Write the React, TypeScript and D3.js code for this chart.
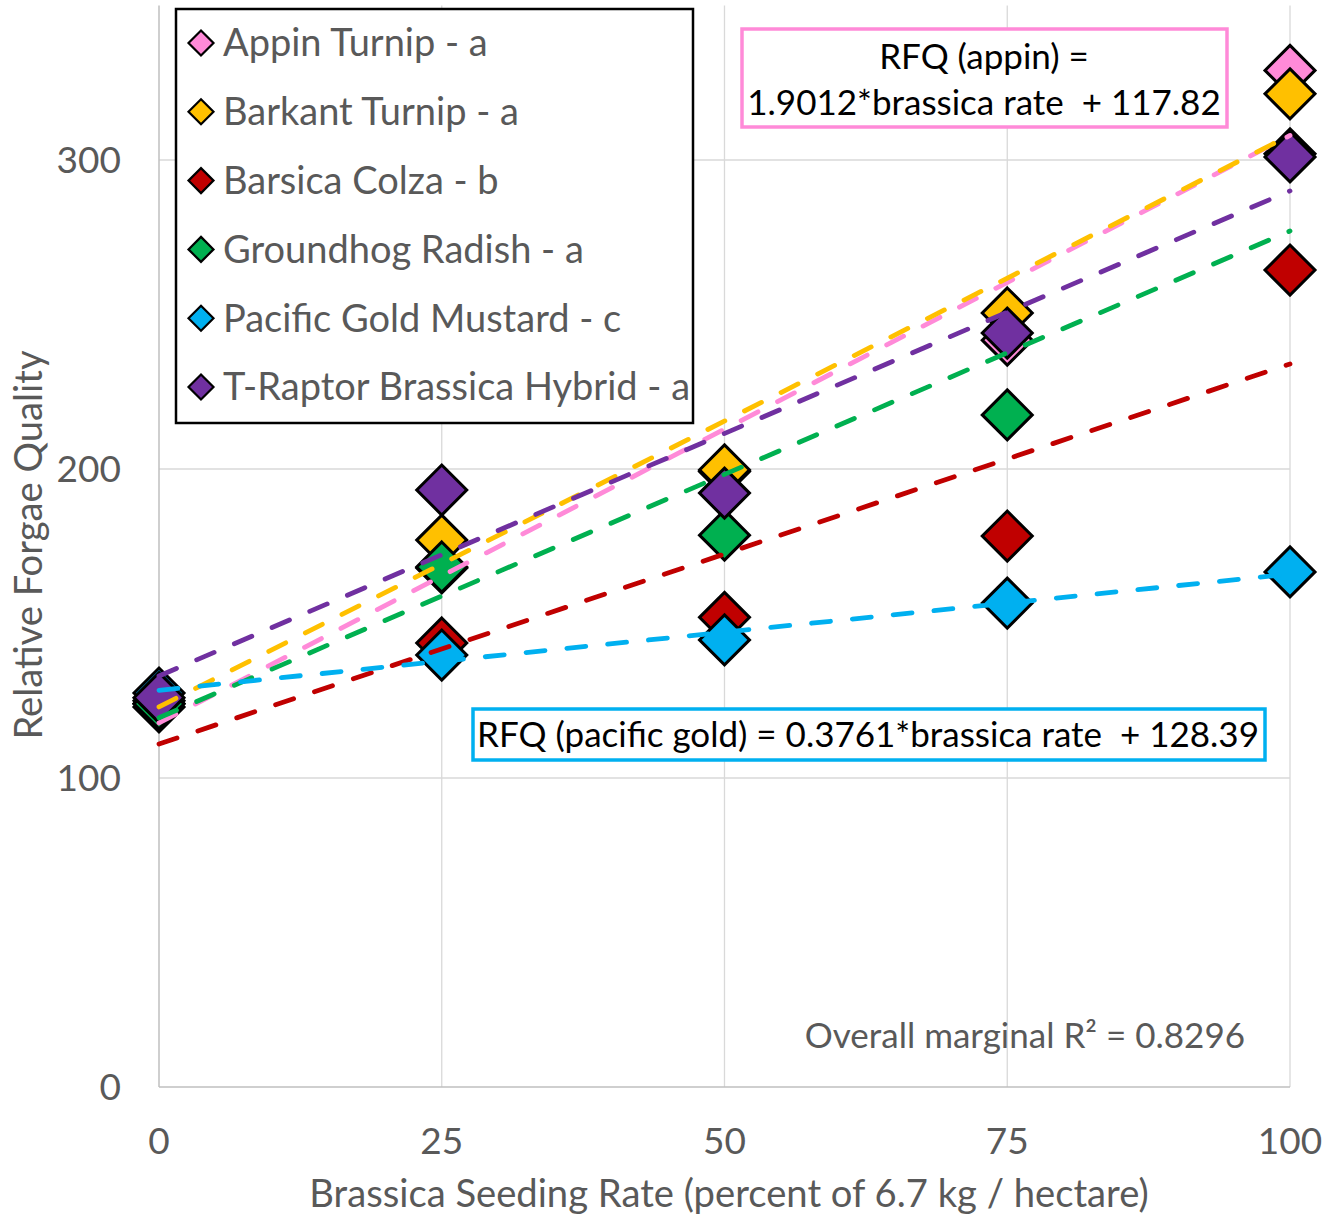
import React from 'react';
import * as d3 from 'd3';

const W = 1328;
const H = 1215;

const rates = [0, 25, 50, 75, 100];
const seriesNames = [
  'Appin Turnip - a',
  'Barkant Turnip - a',
  'Barsica Colza - b',
  'Groundhog Radish - a',
  'Pacific Gold Mustard - c',
  'T-Raptor Brassica Hybrid - a',
];
const seriesColors = ['#FF8AD8', '#FFC000', '#C00000', '#00B050', '#00B0F0', '#7030A0'];

// relative forage quality at each seeding rate
const appin = [124, 168, 199.2, 241.7, 329];
const barkant = [125, 177, 199.7, 250.5, 321.4];
const barsica = [123, 143.7, 152, 178.3, 264.4];
const groundhog = [124, 168.3, 178.6, 217.5, 302];
const pacific = [127.5, 139.8, 144.7, 156.6, 166.7];
const traptor = [126, 193.2, 192.2, 244, 301];
const seriesValues = [appin, barkant, barsica, groundhog, pacific, traptor];

// fitted lines (slope, intercept)
const trendSlopes = [1.9012, 1.85, 1.23, 1.575, 0.3761, 1.57];
const trendIntercepts = [117.82, 123, 111, 119.5, 128.39, 133];

const yTicks = [0, 100, 200, 300];
const xTicks = [0, 25, 50, 75, 100];

const font = "Lato, 'Open Sans', sans-serif";
const grey = '#595959';

const x = d3.scaleLinear().domain([0, 100]).range([159, 1290]);
const y = d3.scaleLinear().domain([0, 350]).range([1087, 5.5]);

const diamond = (cx: number, cy: number, r: number) =>
  `M${cx},${cy - r}L${cx + r},${cy}L${cx},${cy + r}L${cx - r},${cy}Z`;

export default function App() {
  return (
    <svg width={W} height={H} style={{ position: 'absolute', left: 0, top: 0, background: '#fff' }}>
      {/* grid */}
      {yTicks.filter((t) => t > 0).map((t) => (
        <line key={'gy' + t} x1={x(0)} x2={x(100)} y1={y(t)} y2={y(t)} stroke="#d9d9d9" strokeWidth={1.3} />
      ))}
      {xTicks.filter((t) => t > 0).map((t) => (
        <line key={'gx' + t} x1={x(t)} x2={x(t)} y1={y(350)} y2={y(0)} stroke="#d9d9d9" strokeWidth={1.3} />
      ))}
      <line x1={x(0)} x2={x(0)} y1={y(350)} y2={y(0)} stroke="#bfbfbf" strokeWidth={1.5} />
      <line x1={x(0)} x2={x(100)} y1={y(0)} y2={y(0)} stroke="#bfbfbf" strokeWidth={1.5} />

      {/* tick labels */}
      {yTicks.map((t) => (
        <text key={'ty' + t} x={121} y={y(t)} dy="0.35em" textAnchor="end" fontFamily={font} fontSize={37} fill={grey}>
          {t}
        </text>
      ))}
      {xTicks.map((t) => (
        <text key={'tx' + t} x={x(t)} y={1154} textAnchor="middle" fontFamily={font} fontSize={37} fill={grey}>
          {t}
        </text>
      ))}
      <text x={729} y={1207} textAnchor="middle" fontFamily={font} fontSize={38.2} fill={grey}>
        Brassica Seeding Rate (percent of 6.7 kg / hectare)
      </text>
      <text
        transform="translate(42,545) rotate(-90)"
        textAnchor="middle"
        fontFamily={font}
        fontSize={38.2}
        fill={grey}
      >
        Relative Forgae Quality
      </text>

      {/* markers */}
      {seriesValues.map((vals, i) => (
        <g key={'m' + i}>
          {vals.map((v, j) => (
            <path
              key={j}
              d={diamond(x(rates[j]), y(v), 25)}
              fill={seriesColors[i]}
              stroke="#000"
              strokeWidth={3}
            />
          ))}
        </g>
      ))}

      {/* trend lines */}
      {trendSlopes.map((s, i) => {
        const pts: [number, number][] = [0, 100].map((r) => [x(r), y(s * r + trendIntercepts[i])]);
        return (
          <path
            key={'t' + i}
            d={d3.line()(pts) || ''}
            fill="none"
            stroke={seriesColors[i]}
            strokeWidth={4.8}
            strokeDasharray="19 22"
            strokeLinecap="round"
          />
        );
      })}

      {/* legend */}
      <rect x={176} y={9} width={517} height={414} fill="#fff" stroke="#000" strokeWidth={2.5} />
      {seriesNames.map((n, i) => {
        const cy = 43 + i * 68.8;
        return (
          <g key={'l' + i}>
            <path d={diamond(201, cy, 12.5)} fill={seriesColors[i]} stroke="#000" strokeWidth={2.2} />
            <text x={223} y={cy} dy="0.35em" fontFamily={font} fontSize={38} fill={grey}>
              {n}
            </text>
          </g>
        );
      })}

      {/* equation boxes */}
      <rect x={742} y={29} width={485} height={98} fill="#fff" stroke="#FF8AD8" strokeWidth={3.5} />
      <text x={984} y={69} textAnchor="middle" fontFamily={font} fontSize={35} fill="#000">
        RFQ (appin) =
      </text>
      <text x={984} y={115} textAnchor="middle" fontFamily={font} fontSize={35} fill="#000" style={{ whiteSpace: 'pre' }}>
        1.9012*brassica rate  + 117.82
      </text>

      <rect x={473} y={709} width={792} height={51} fill="#fff" stroke="#00B0F0" strokeWidth={3.5} />
      <text x={868} y={747} textAnchor="middle" fontFamily={font} fontSize={35} fill="#000" style={{ whiteSpace: 'pre' }}>
        RFQ (pacific gold) = 0.3761*brassica rate  + 128.39
      </text>

      <text x={1245} y={1048} textAnchor="end" fontFamily={font} fontSize={35} fill={grey}>
        Overall marginal R² = 0.8296
      </text>
    </svg>
  );
}
